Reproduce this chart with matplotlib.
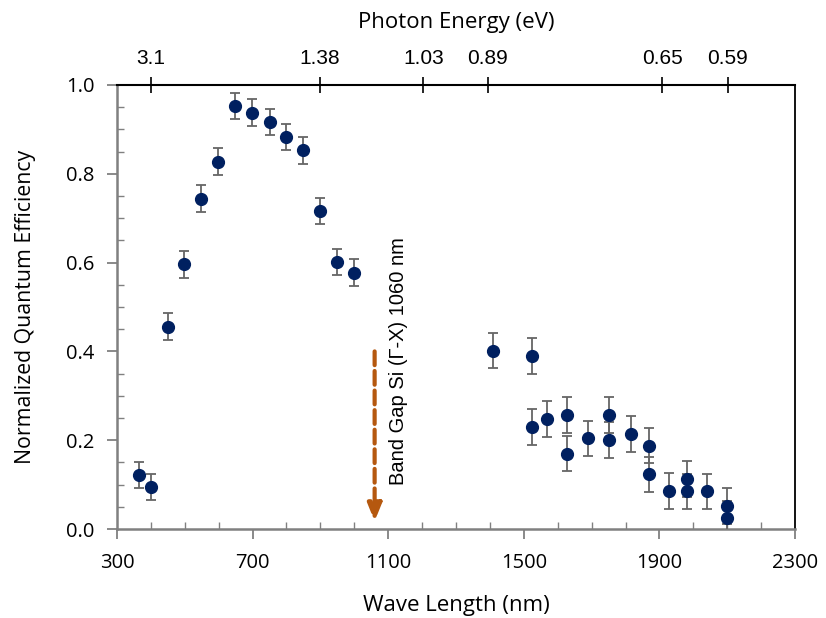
import matplotlib.pyplot as plt
from matplotlib.ticker import MultipleLocator, FixedLocator

# wavelength (nm), normalized QE, error
wavelength = [365, 399, 450, 499, 549, 599, 649, 699, 750, 799, 849, 899, 949, 1000,
              1410, 1524, 1524, 1569, 1628, 1628, 1690, 1750, 1750, 1815, 1869, 1869,
              1929, 1980, 1980, 2040, 2100, 2100]
qe = [0.122, 0.095, 0.456, 0.596, 0.744, 0.827, 0.953, 0.938, 0.917, 0.883, 0.853, 0.716, 0.601, 0.577,
      0.402, 0.390, 0.230, 0.248, 0.257, 0.170, 0.204, 0.257, 0.200, 0.214, 0.188, 0.123,
      0.086, 0.113, 0.085, 0.085, 0.052, 0.024]
err = [0.03] * 14 + [0.04] * 18

x_ticks = [300, 700, 1100, 1500, 1900, 2300]
energy_ticks = [3.1, 1.38, 1.03, 0.89, 0.65, 0.59]
energy_labels = ['3.1', '1.38', '1.03', '0.89', '0.65', '0.59']

band_gap_nm = 1060

fig = plt.figure(figsize=(8.26, 6.18), dpi=100)
ax = fig.add_axes([0.1416, 0.144, 0.8209, 0.7185])

ax.errorbar(wavelength, qe, yerr=err, fmt='o', color='#002060', markersize=8.5,
            ecolor='#666666', elinewidth=1.3, capsize=3.5, capthick=1.3, zorder=3)

ax.annotate('', xy=(band_gap_nm, 0.017), xytext=(band_gap_nm, 0.4),
            arrowprops=dict(arrowstyle='-|>,head_width=0.3,head_length=0.75', color='#B5580F',
                            lw=3, linestyle=(0, (3.3, 1.4)), mutation_scale=14, shrinkA=0, shrinkB=0))
ax.text(band_gap_nm + 69, 0.378, 'Band Gap Si (\u0393-X) 1060 nm', rotation=90,
        ha='center', va='center', fontsize=14.5, family='Liberation Sans')

ax.set_xlim(300, 2300)
ax.set_ylim(0, 1.0)
ax.xaxis.set_major_locator(FixedLocator(x_ticks))
ax.xaxis.set_minor_locator(MultipleLocator(100))
ax.yaxis.set_major_locator(MultipleLocator(0.2))
ax.yaxis.set_minor_locator(MultipleLocator(0.05))
ax.yaxis.set_major_formatter(plt.FuncFormatter(lambda v, p: f'{v:.1f}'))

for lab in ax.get_xticklabels() + ax.get_yticklabels():
    lab.set_family('Open Sans')
ax.tick_params(which='major', direction='out', length=7, width=1.3, color='#808080',
               labelsize=14.5, top=False, right=False)
ax.tick_params(axis='x', which='major', pad=10)
ax.tick_params(axis='y', which='major', pad=9)
ax.tick_params(which='minor', direction='in', length=5, width=1.0, color='#808080',
               top=False, right=False)
for side in ['left', 'bottom']:
    ax.spines[side].set_color('#808080')
    ax.spines[side].set_linewidth(1.8)
ax.spines['right'].set_color('black')
ax.spines['right'].set_linewidth(1.3)
ax.spines['top'].set_visible(False)

ax.set_xlabel('Wave Length (nm)', fontsize=16, family='Open Sans', labelpad=16)
ax.set_ylabel('Normalized Quantum Efficiency', fontsize=15.3, family='Open Sans', labelpad=22)

# photon energy on top, placed at the matching wavelengths
top = ax.twiny()
top.set_xlim(ax.get_xlim())
top.set_xticks([1240 / e for e in energy_ticks])
top.set_xticklabels(energy_labels, family='Liberation Sans')
top.tick_params(direction='inout', length=12, width=1.2, color='black', labelsize=15, pad=6)
top.spines['top'].set_color('black')
top.spines['top'].set_linewidth(1.5)
for side in ['left', 'bottom', 'right']:
    top.spines[side].set_visible(False)
top.set_xlabel('Photon Energy (eV)', fontsize=16, family='Open Sans', labelpad=15)

fig.savefig('out.png', dpi=100)
